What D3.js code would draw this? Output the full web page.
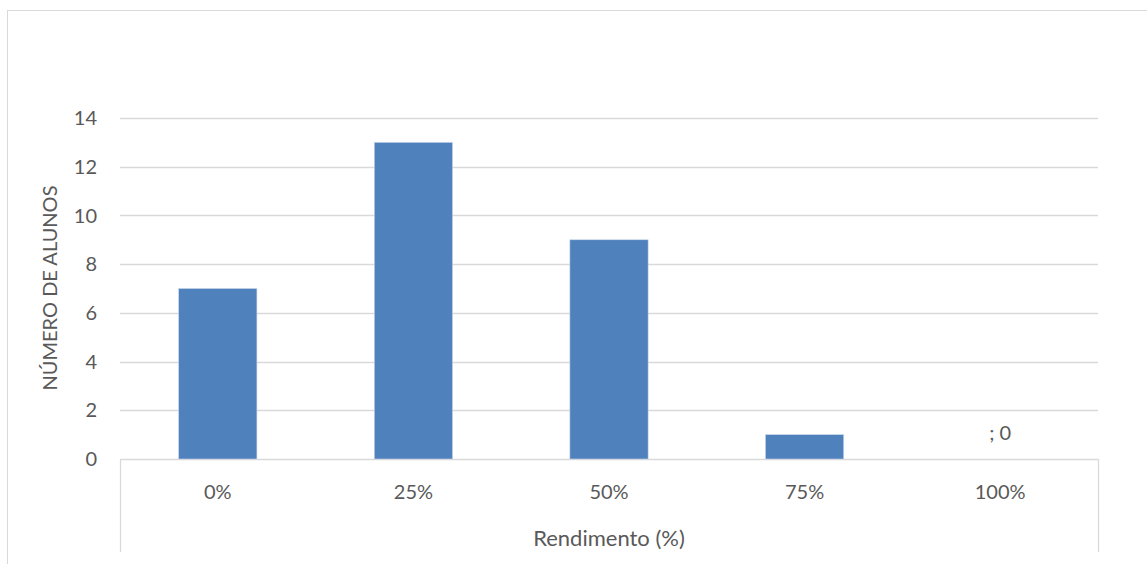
<!DOCTYPE html>
<html>
<head>
<meta charset="utf-8">
<script src="https://cdn.jsdelivr.net/npm/d3@7"></script>
<style>
	body { margin: 0; background: #fff; }
	text { font-family: Lato, "Open Sans", sans-serif; fill: #595959; }
</style>
</head>
<body>
<div id="chart"></div>
<script>
(function(){
	var width = 1147,
		height = 564;

	// data
	var categories = ["0%", "25%", "50%", "75%", "100%"];
	var values = [7, 13, 9, 1, 0];
	var dataLabels = ["", "", "", "", "; 0"];
	var yTicks = [0, 2, 4, 6, 8, 10, 12, 14];

	var svg = d3.select("#chart")
		.append("svg")
		.attr("width", width)
		.attr("height", height)

	// chart border
	svg.append("rect")
		.attr("x", 7.5)
		.attr("y", 10.5)
		.attr("width", 1200)
		.attr("height", 700)
		.attr("fill", "none")
		.attr("stroke", "#d9d9d9")

	var x = d3.scaleBand().domain(categories).range([120, 1098])
	var y = d3.scaleLinear().domain([0, 14]).range([459, 118])

	// gridlines
	svg.selectAll(".grid")
		.data(yTicks)
		.enter().append("line")
		.attr("x1", 120)
		.attr("x2", 1098)
		.attr("y1", function(d){ return Math.round(y(d)) + 0.5 })
		.attr("y2", function(d){ return Math.round(y(d)) + 0.5 })
		.attr("stroke", "#d9d9d9")
		.attr("stroke-width", 1.3)

	// category axis box sides
	svg.selectAll(".side")
		.data([120, 1098])
		.enter().append("line")
		.attr("x1", function(d){ return d + 0.5 })
		.attr("x2", function(d){ return d + 0.5 })
		.attr("y1", y(0))
		.attr("y2", 552)
		.attr("stroke", "#d9d9d9")
		.attr("stroke-width", 1.3)

	// bars
	var barW = x.bandwidth() * 0.4
	svg.selectAll(".bar")
		.data(values)
		.enter().append("rect")
		.attr("x", function(d, i){ return x(categories[i]) + (x.bandwidth() - barW) / 2 })
		.attr("y", function(d){ return y(d) })
		.attr("width", barW)
		.attr("height", function(d){ return y(0) - y(d) })
		.attr("fill", "#4f81bd")
		.attr("stroke", "#c9d6ea")
		.attr("stroke-width", 0.6)

	// y tick labels
	svg.selectAll(".ytick")
		.data(yTicks)
		.enter().append("text")
		.attr("x", 97)
		.attr("y", function(d){ return y(d) })
		.attr("dy", "0.36em")
		.attr("text-anchor", "end")
		.style("font-size", "20px")
		.text(function(d){ return d })

	// x tick labels
	svg.selectAll(".xtick")
		.data(categories)
		.enter().append("text")
		.attr("x", function(d){ return x(d) + x.bandwidth() / 2 })
		.attr("y", 492)
		.attr("dy", "0.36em")
		.attr("text-anchor", "middle")
		.style("font-size", "20px")
		.text(function(d){ return d })

	// data labels
	svg.selectAll(".dlabel")
		.data(dataLabels)
		.enter().append("text")
		.attr("x", function(d, i){ return x(categories[i]) + x.bandwidth() / 2 })
		.attr("y", function(d, i){ return y(values[i]) - 26 })
		.attr("dy", "0.36em")
		.attr("text-anchor", "middle")
		.style("font-size", "20px")
		.text(function(d){ return d })

	// axis titles
	svg.append("text")
		.attr("x", 609)
		.attr("y", 538)
		.attr("dy", "0.36em")
		.attr("text-anchor", "middle")
		.style("font-size", "22px")
		.text("Rendimento (%)")

	svg.append("text")
		.attr("transform", "translate(50,288) rotate(-90)")
		.attr("dy", "0.36em")
		.attr("text-anchor", "middle")
		.style("font-size", "20px")
		.text("NÚMERO DE ALUNOS")

})();
</script>
</body>
</html>
